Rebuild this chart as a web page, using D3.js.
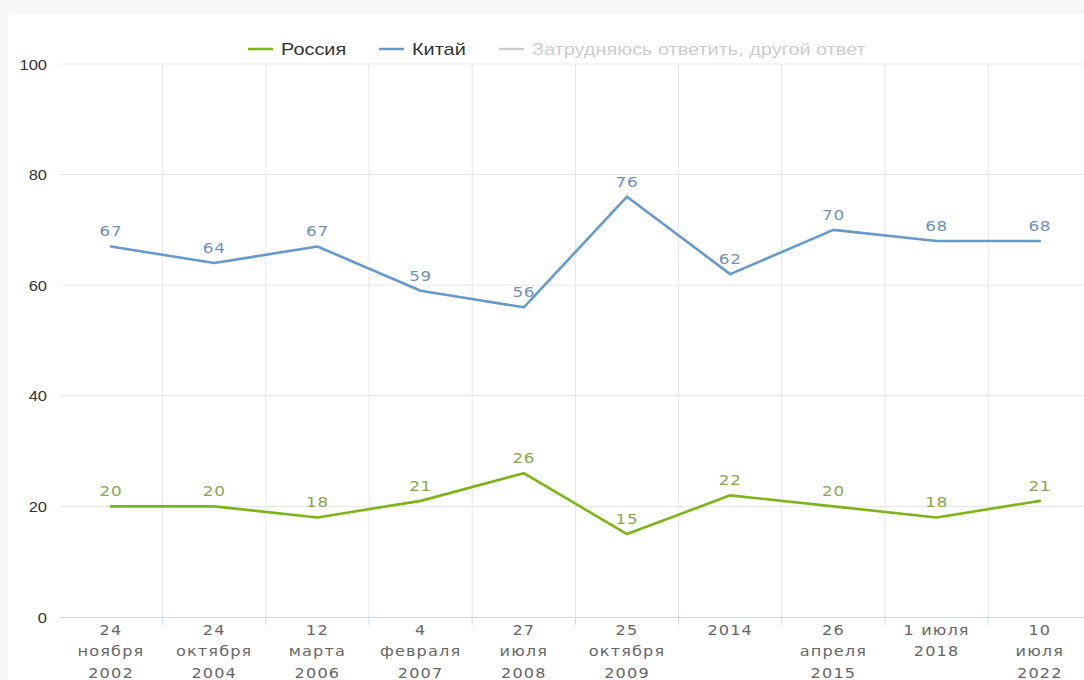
<!DOCTYPE html>
<html lang="ru">
<head>
<meta charset="UTF-8">
<title>Россия / Китай</title>
<script src="https://d3js.org/d3.v7.min.js"></script>
<style>
    html, body { margin: 0; padding: 0; background: #f7f7f7; }
    body { width: 1084px; height: 680px; overflow: hidden; }
    svg { display: block; }
    .ylab { font-family: "Liberation Sans", Arial, sans-serif; font-size: 15px; fill: #333; }
    .xlab { font-family: "DejaVu Sans", Verdana, sans-serif; font-size: 14px; fill: #666; letter-spacing: 1px; }
    .dlab { font-family: "DejaVu Sans", Verdana, sans-serif; font-size: 14px; letter-spacing: 0.6px; }
    .legend text { font-family: "Liberation Sans", Arial, sans-serif; font-size: 17px; }
</style>
</head>
<body>
<svg width="1084" height="680"></svg>
<script>
// dates of the polls (each line of a label is a separate string)
const categories = [
    ["24", "ноября", "2002"],
    ["24", "октября", "2004"],
    ["12", "марта", "2006"],
    ["4", "февраля", "2007"],
    ["27", "июля", "2008"],
    ["25", "октября", "2009"],
    ["2014"],
    ["26", "апреля", "2015"],
    ["1 июля", "2018"],
    ["10", "июля", "2022"]
];
const russia = [20, 20, 18, 21, 26, 15, 22, 20, 18, 21];
const china  = [67, 64, 67, 59, 56, 76, 62, 70, 68, 68];
const yTicks = [0, 20, 40, 60, 80, 100];
const seriesNames = ["Россия", "Китай", "Затрудняюсь ответить, другой ответ"];

const svg = d3.select("svg");

// the source picture has its text a bit wider than normal
const at = (px, py, sx) => `translate(${px},${py}) scale(${sx},1)`;

// white card
svg.append("rect")
    .attr("x", 8).attr("y", 14)
    .attr("width", 1090).attr("height", 680)
    .attr("rx", 4)
    .attr("fill", "#fff");

const plotLeft = 59.4, plotRight = 1091.4, plotTop = 64, plotBottom = 617;

const x = d3.scaleBand()
    .domain(d3.range(categories.length))
    .range([plotLeft, plotRight]);

const y = d3.scaleLinear()
    .domain([0, 100])
    .range([plotBottom, plotTop]);

// horizontal grid + y labels
const yg = svg.append("g");
yg.selectAll("line")
    .data(yTicks.filter(d => d > 0))
    .enter().append("line")
    .attr("x1", plotLeft).attr("x2", plotRight)
    .attr("y1", d => y(d)).attr("y2", d => y(d))
    .attr("stroke", "#e6e6e6");

yg.selectAll("text")
    .data(yTicks)
    .enter().append("text")
    .attr("class", "ylab")
    .attr("text-anchor", "end")
    .attr("transform", d => at(47, y(d) + 5.5, 1.1))
    .text(d => d);

// vertical grid at band boundaries
const bounds = d3.range(1, categories.length).map(i => x(i));
svg.append("g").selectAll("line")
    .data(bounds)
    .enter().append("line")
    .attr("x1", d => d).attr("x2", d => d)
    .attr("y1", plotTop).attr("y2", plotBottom)
    .attr("stroke", "#e6e6e6");

// x axis line and ticks
svg.append("line")
    .attr("x1", plotLeft).attr("x2", plotRight)
    .attr("y1", plotBottom + 0.5).attr("y2", plotBottom + 0.5)
    .attr("stroke", "#ccd6eb");
svg.append("g").selectAll("line")
    .data(bounds)
    .enter().append("line")
    .attr("x1", d => d).attr("x2", d => d)
    .attr("y1", plotBottom).attr("y2", plotBottom + 8)
    .attr("stroke", "#ccd6eb");

// x labels
const cx = i => x(i) + x.bandwidth() / 2;
const xl = svg.append("g").selectAll("text")
    .data(categories)
    .enter().append("text")
    .attr("class", "xlab")
    .attr("text-anchor", "middle")
    .attr("transform", (d, i) => at(cx(i), 635, 1.15));
xl.selectAll("tspan")
    .data(d => d)
    .enter().append("tspan")
    .attr("x", 0)
    .attr("dy", (d, j) => j === 0 ? 0 : 21.5)
    .text(d => d);

// lines
const series = [
    { name: seriesNames[0], values: russia, color: "#7cb518", label: "#88a650" },
    { name: seriesNames[1], values: china, color: "#6699cc", label: "#7090bd" }
];

const line = d3.line()
    .x((d, i) => cx(i))
    .y(d => y(d));

series.forEach(s => {
    svg.append("path")
        .datum(s.values)
        .attr("d", line)
        .attr("fill", "none")
        .attr("stroke", s.color)
        .attr("stroke-width", 2.6)
        .attr("stroke-linejoin", "round")
        .attr("stroke-linecap", "round");

    svg.append("g").selectAll("text")
        .data(s.values)
        .enter().append("text")
        .attr("class", "dlab")
        .attr("text-anchor", "middle")
        .attr("transform", (d, i) => at(cx(i), y(d) - 10, 1.2))
        .attr("fill", s.label)
        .text(d => d);
});

// legend
const legendItems = [
    { name: seriesNames[0], color: "#7cb518", text: "#333", x: 248 },
    { name: seriesNames[1], color: "#6699cc", text: "#333", x: 379 },
    { name: seriesNames[2], color: "#cccccc", text: "#cccccc", x: 499 }
];
const lg = svg.append("g").attr("class", "legend");
legendItems.forEach(d => {
    lg.append("line")
        .attr("x1", d.x).attr("x2", d.x + 25)
        .attr("y1", 49).attr("y2", 49)
        .attr("stroke", d.color)
        .attr("stroke-width", 2.5);
    lg.append("text")
        .attr("transform", at(d.x + 33, 55, 1.17))
        .attr("fill", d.text)
        .text(d.name);
});
</script>
</body>
</html>
